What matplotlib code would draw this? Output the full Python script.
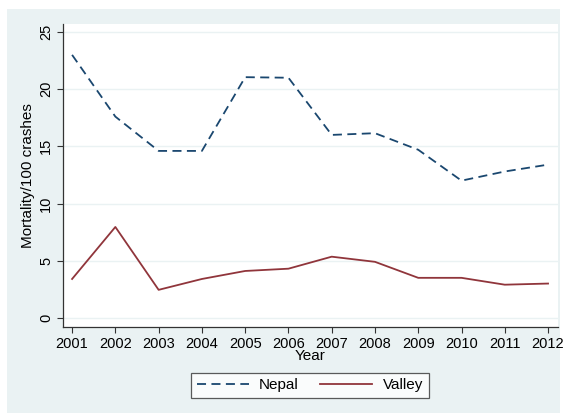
import matplotlib.pyplot as plt
from matplotlib.patches import Rectangle

years = [2001, 2002, 2003, 2004, 2005, 2006, 2007, 2008, 2009, 2010, 2011, 2012]
nepal = [23.0, 17.6, 14.6, 14.6, 21.05, 21.0, 16.0, 16.15, 14.7, 12.0, 12.8, 13.4]
valley = [3.4, 7.95, 2.45, 3.4, 4.1, 4.3, 5.35, 4.9, 3.5, 3.5, 2.9, 3.0]
yticks = [0, 5, 10, 15, 20, 25]

plt.rcParams['font.family'] = ['Liberation Sans', 'DejaVu Sans']

W, H = 563, 413
fig = plt.figure(figsize=(W / 100, H / 100), dpi=100)
fig.patch.set_facecolor('white')
# Stata-style outer panel, kept behind the axes
fig.patches.append(Rectangle((7 / W, 0), (560 - 7) / W, (H - 9) / H,
                             transform=fig.transFigure, facecolor='#eaf2f3',
                             edgecolor='none', zorder=-5))

ax = fig.add_axes([63 / W, (H - 327) / H, (558 - 63) / W, (327 - 24) / H])
ax.set_facecolor('white')

ax.plot(years, nepal, color='#1a476f', lw=1.3, ls=(0, (5, 3)), label='Nepal')
ax.plot(years, valley, color='#90353b', lw=1.3, label='Valley')

ax.set_xlim(2000.79, 2012.23)
ax.set_ylim(-0.8, 25.7)
ax.set_xticks(years)
ax.set_yticks(yticks)
ax.set_yticklabels([str(v) for v in yticks], rotation=90, va='center')
ax.grid(axis='y', color='#eaf2f3', lw=1)
ax.set_axisbelow(True)

for s in ['top', 'right']:
    ax.spines[s].set_visible(False)
for s in ['left', 'bottom']:
    ax.spines[s].set_color('#333333')
    ax.spines[s].set_linewidth(0.9)
ax.tick_params(colors='#333333', labelcolor='black', labelsize=10.5,
               length=4.5, width=0.8, pad=2.5)

ax.set_xlabel('Year', fontsize=11, labelpad=-1)
ax.set_ylabel('Mortality/100 crashes', fontsize=11, labelpad=3)

leg = ax.legend(loc='upper center', bbox_to_anchor=(310 / W, (H - 373) / H),
                bbox_transform=fig.transFigure, ncol=2, frameon=True,
                fancybox=False, edgecolor='#333333', fontsize=11,
                handlelength=3.4, handletextpad=0.7, columnspacing=1.4,
                borderpad=0.35, borderaxespad=0)
leg.get_frame().set_linewidth(0.9)

fig.savefig('out.png', dpi=100)
